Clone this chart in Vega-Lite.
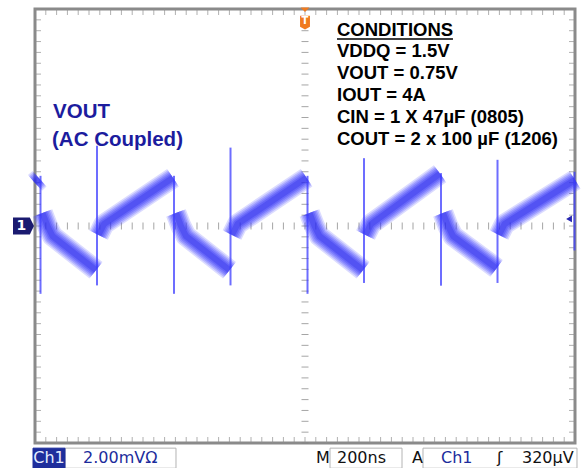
{
  "$schema": "https://vega.github.io/schema/vega-lite/v6.json",
  "width": 540,
  "height": 434,
  "autosize": {"type": "none"},
  "padding": {"left": 35, "top": 9, "right": 10, "bottom": 25},
  "background": "white",
  "config": {"view": {"stroke": "#8a8a8a", "strokeWidth": 3}},
  "datasets": {
    "band": [
      {"seg": "U-1", "t": -1000, "v": 1.59}, {"seg": "U-1", "t": -983.3, "v": 1.74},
      {"seg": "D0", "t": -972.2, "v": 0.48}, {"seg": "D0", "t": -953.7, "v": 0.0}, {"seg": "D0", "t": -935.2, "v": -0.37}, {"seg": "D0", "t": -774.1, "v": -1.63},
      {"seg": "U0", "t": -764.8, "v": -0.33}, {"seg": "U0", "t": -744.4, "v": 0.07}, {"seg": "U0", "t": -488.9, "v": 1.78},
      {"seg": "D1", "t": -477.8, "v": 0.48}, {"seg": "D1", "t": -459.3, "v": 0.0}, {"seg": "D1", "t": -440.7, "v": -0.37}, {"seg": "D1", "t": -279.6, "v": -1.63},
      {"seg": "U1", "t": -270.4, "v": -0.33}, {"seg": "U1", "t": -250.0, "v": 0.07}, {"seg": "U1", "t": 5.6, "v": 1.78},
      {"seg": "D2", "t": 16.7, "v": 0.48}, {"seg": "D2", "t": 35.2, "v": 0.0}, {"seg": "D2", "t": 53.7, "v": -0.37}, {"seg": "D2", "t": 214.8, "v": -1.63},
      {"seg": "U2", "t": 224.1, "v": -0.33}, {"seg": "U2", "t": 244.4, "v": 0.07}, {"seg": "U2", "t": 500.0, "v": 1.93},
      {"seg": "D3", "t": 511.1, "v": 0.48}, {"seg": "D3", "t": 529.6, "v": 0.0}, {"seg": "D3", "t": 548.1, "v": -0.37}, {"seg": "D3", "t": 709.3, "v": -1.56},
      {"seg": "U3", "t": 718.5, "v": -0.33}, {"seg": "U3", "t": 738.9, "v": 0.07}, {"seg": "U3", "t": 1000, "v": 1.70}
    ],
    "spikes": [
      {"t": -979.6, "v1": -2.5, "v2": 1.85},
      {"t": -770.4, "v1": -2.19, "v2": 2.96},
      {"t": -485.2, "v1": -2.5, "v2": 1.85},
      {"t": -275.9, "v1": -2.19, "v2": 2.89},
      {"t": 9.3, "v1": -2.5, "v2": 1.85},
      {"t": 218.5, "v1": -2.1, "v2": 2.5},
      {"t": 503.7, "v1": -2.2, "v2": 1.95},
      {"t": 713.0, "v1": -2.1, "v2": 2.44},
      {"t": 998.1, "v1": -0.9, "v2": 2.0}
    ],
    "tx": [
      {"t": -1000}, {"t": -960}, {"t": -920}, {"t": -880}, {"t": -840}, {"t": -800}, {"t": -760}, {"t": -720}, {"t": -680}, {"t": -640},
      {"t": -600}, {"t": -560}, {"t": -520}, {"t": -480}, {"t": -440}, {"t": -400}, {"t": -360}, {"t": -320}, {"t": -280}, {"t": -240},
      {"t": -200}, {"t": -160}, {"t": -120}, {"t": -80}, {"t": -40}, {"t": 0}, {"t": 40}, {"t": 80}, {"t": 120}, {"t": 160},
      {"t": 200}, {"t": 240}, {"t": 280}, {"t": 320}, {"t": 360}, {"t": 400}, {"t": 440}, {"t": 480}, {"t": 520}, {"t": 560},
      {"t": 600}, {"t": 640}, {"t": 680}, {"t": 720}, {"t": 760}, {"t": 800}, {"t": 840}, {"t": 880}, {"t": 920}, {"t": 960}, {"t": 1000}
    ],
    "ty": [
      {"v": -8}, {"v": -7.6}, {"v": -7.2}, {"v": -6.8}, {"v": -6.4}, {"v": -6}, {"v": -5.6}, {"v": -5.2}, {"v": -4.8}, {"v": -4.4},
      {"v": -4}, {"v": -3.6}, {"v": -3.2}, {"v": -2.8}, {"v": -2.4}, {"v": -2}, {"v": -1.6}, {"v": -1.2}, {"v": -0.8}, {"v": -0.4},
      {"v": 0}, {"v": 0.4}, {"v": 0.8}, {"v": 1.2}, {"v": 1.6}, {"v": 2}, {"v": 2.4}, {"v": 2.8}, {"v": 3.2}, {"v": 3.6},
      {"v": 4}, {"v": 4.4}, {"v": 4.8}, {"v": 5.2}, {"v": 5.6}, {"v": 6}, {"v": 6.4}, {"v": 6.8}, {"v": 7.2}, {"v": 7.6}, {"v": 8}
    ],
    "vout": [
      {"label": "VOUT", "t": -933.3, "v": 4.0},
      {"label": "(AC Coupled)", "t": -937.0, "v": 2.96}
    ],
    "cond": [
      {"label": "CONDITIONS", "t": 118.5, "v": 7.0},
      {"label": "VDDQ = 1.5V", "t": 118.5, "v": 6.22},
      {"label": "VOUT = 0.75V", "t": 118.5, "v": 5.41},
      {"label": "IOUT = 4A", "t": 118.5, "v": 4.59},
      {"label": "CIN = 1 X 47µF (0805)", "t": 118.5, "v": 3.81},
      {"label": "COUT = 2 x 100 µF (1206)", "t": 118.5, "v": 3.0}
    ],
    "underline": [{"t1": 118.5, "t2": 548, "v": 6.89}],
    "boxes": [
      {"name": "scale", "t1": -888.9, "t2": -477.8, "v1": -8.19, "v2": -8.93},
      {"name": "time", "t1": 92.6, "t2": 359.3, "v1": -8.19, "v2": -8.93},
      {"name": "trigger", "t1": 437, "t2": 1007.4, "v1": -8.19, "v2": -8.93}
    ],
    "chbox": [{"t1": -1007.4, "t2": -888.9, "v1": -8.19, "v2": -8.93}],
    "chtext": [{"label": "Ch1", "t": -948, "v": -8.74}],
    "bluetext": [
      {"label": "2.00mVΩ", "t": -822, "v": -8.74},
      {"label": "Ch1", "t": 503.7, "v": -8.74}
    ],
    "blacktext": [
      {"label": "M", "t": 40.7, "v": -8.74},
      {"label": "200ns", "t": 118.5, "v": -8.74},
      {"label": "A", "t": 396.3, "v": -8.74},
      {"label": "ʃ", "t": 711, "v": -8.74},
      {"label": "320µV", "t": 803.7, "v": -8.74}
    ],
    "trigpin": [{"t": 0, "v": 7.65}],
    "triglabel": [{"t": 0, "v": 7.54, "label": "T"}],
    "chmark": [{"t": -1042.6, "v": 0, "label": "1"}],
    "rmark": [{"t": 977.8, "v": 0.26}]
  },
  "layer": [
    {
      "mark": {"type": "rule", "color": "#7f7f7f", "strokeWidth": 1.5},
      "encoding": {"x": {"datum": 0, "type": "quantitative", "axis": null}}
    },
    {
      "mark": {"type": "rule", "color": "#7f7f7f", "strokeWidth": 1.5},
      "encoding": {"y": {"datum": 0, "type": "quantitative", "axis": null}}
    },
    {
      "data": {"name": "tx"},
      "mark": {"type": "tick", "orient": "vertical", "size": 7, "thickness": 1, "color": "#7f7f7f"},
      "encoding": {
        "x": {"field": "t", "type": "quantitative", "axis": null},
        "y": {"datum": 0, "type": "quantitative", "axis": null}
      }
    },
    {
      "data": {"name": "ty"},
      "mark": {"type": "tick", "orient": "horizontal", "size": 7, "thickness": 1, "color": "#7f7f7f"},
      "encoding": {
        "y": {"field": "v", "type": "quantitative", "axis": null},
        "x": {"datum": 0, "type": "quantitative", "axis": null}
      }
    },
    {
      "data": {"name": "tx"},
      "mark": {"type": "tick", "orient": "vertical", "size": 12, "thickness": 1, "color": "#8f8f8f", "clip": true},
      "encoding": {
        "x": {"field": "t", "type": "quantitative", "axis": null},
        "y": {"datum": 8, "type": "quantitative", "axis": null}
      }
    },
    {
      "data": {"name": "tx"},
      "mark": {"type": "tick", "orient": "vertical", "size": 12, "thickness": 1, "color": "#8f8f8f", "clip": true},
      "encoding": {
        "x": {"field": "t", "type": "quantitative", "axis": null},
        "y": {"datum": -8, "type": "quantitative", "axis": null}
      }
    },
    {
      "data": {"name": "ty"},
      "mark": {"type": "tick", "orient": "horizontal", "size": 12, "thickness": 1, "color": "#8f8f8f", "clip": true},
      "encoding": {
        "y": {"field": "v", "type": "quantitative", "axis": null},
        "x": {"datum": -1000, "type": "quantitative", "axis": null}
      }
    },
    {
      "data": {"name": "ty"},
      "mark": {"type": "tick", "orient": "horizontal", "size": 12, "thickness": 1, "color": "#8f8f8f", "clip": true},
      "encoding": {
        "y": {"field": "v", "type": "quantitative", "axis": null},
        "x": {"datum": 1000, "type": "quantitative", "axis": null}
      }
    },
    {
      "data": {"name": "band"},
      "mark": {"type": "line", "stroke": "#3a3aff", "strokeWidth": 21, "opacity": 0.18, "strokeCap": "butt", "strokeJoin": "round"},
      "encoding": {
        "x": {
          "field": "t", "type": "quantitative",
          "scale": {"domain": [-1000, 1000], "nice": false, "zero": false},
          "axis": {"values": [-800, -600, -400, -200, 200, 400, 600, 800], "grid": true, "gridDash": [2, 8.85], "gridDashOffset": 1, "gridColor": "#a0a0a0", "gridWidth": 2, "domain": false, "ticks": false, "labels": false, "title": null}
        },
        "y": {
          "field": "v", "type": "quantitative",
          "scale": {"domain": [-8, 8], "nice": false, "zero": false},
          "axis": {"values": [-6, -4, -2, 2, 4, 6], "grid": true, "gridDash": [2, 8.8], "gridDashOffset": 1, "gridColor": "#a0a0a0", "gridWidth": 2, "domain": false, "ticks": false, "labels": false, "title": null}
        },
        "detail": {"field": "seg", "type": "nominal"}
      }
    },
    {
      "data": {"name": "band"},
      "mark": {"type": "line", "stroke": "#3a3aff", "strokeWidth": 18, "opacity": 0.22, "strokeCap": "butt", "strokeJoin": "round"},
      "encoding": {
        "x": {"field": "t", "type": "quantitative", "axis": null},
        "y": {"field": "v", "type": "quantitative", "axis": null},
        "detail": {"field": "seg", "type": "nominal"}
      }
    },
    {
      "data": {"name": "band"},
      "mark": {"type": "line", "stroke": "#3636ff", "strokeWidth": 15, "opacity": 0.25, "strokeCap": "butt", "strokeJoin": "round"},
      "encoding": {
        "x": {"field": "t", "type": "quantitative", "axis": null},
        "y": {"field": "v", "type": "quantitative", "axis": null},
        "detail": {"field": "seg", "type": "nominal"}
      }
    },
    {
      "data": {"name": "band"},
      "mark": {"type": "line", "stroke": "#3030f8", "strokeWidth": 12, "opacity": 0.25, "strokeCap": "butt", "strokeJoin": "round"},
      "encoding": {
        "x": {"field": "t", "type": "quantitative", "axis": null},
        "y": {"field": "v", "type": "quantitative", "axis": null},
        "detail": {"field": "seg", "type": "nominal"}
      }
    },
    {
      "data": {"name": "band"},
      "mark": {"type": "line", "stroke": "#2a2af0", "strokeWidth": 9, "opacity": 0.28, "strokeCap": "butt", "strokeJoin": "round"},
      "encoding": {
        "x": {"field": "t", "type": "quantitative", "axis": null},
        "y": {"field": "v", "type": "quantitative", "axis": null},
        "detail": {"field": "seg", "type": "nominal"}
      }
    },
    {
      "data": {"name": "band"},
      "mark": {"type": "line", "stroke": "#2424e6", "strokeWidth": 6, "opacity": 0.3, "strokeCap": "butt", "strokeJoin": "round"},
      "encoding": {
        "x": {"field": "t", "type": "quantitative", "axis": null},
        "y": {"field": "v", "type": "quantitative", "axis": null},
        "detail": {"field": "seg", "type": "nominal"}
      }
    },
    {
      "data": {"name": "spikes"},
      "mark": {"type": "rule", "color": "#3c3cff", "strokeWidth": 2, "opacity": 0.75},
      "encoding": {
        "x": {"field": "t", "type": "quantitative", "axis": null},
        "y": {"field": "v1", "type": "quantitative", "axis": null},
        "y2": {"field": "v2"}
      }
    },
    {
      "data": {"name": "vout"},
      "mark": {"type": "text", "align": "left", "baseline": "alphabetic", "font": "Liberation Sans", "fontWeight": "bold", "fontSize": 20.5, "color": "#1c1c9e"},
      "encoding": {
        "x": {"field": "t", "type": "quantitative", "axis": null},
        "y": {"field": "v", "type": "quantitative", "axis": null},
        "text": {"field": "label"}
      }
    },
    {
      "data": {"name": "cond"},
      "mark": {"type": "text", "align": "left", "baseline": "alphabetic", "font": "Liberation Sans", "fontWeight": "bold", "fontSize": 18.5, "color": "#000000"},
      "encoding": {
        "x": {"field": "t", "type": "quantitative", "axis": null},
        "y": {"field": "v", "type": "quantitative", "axis": null},
        "text": {"field": "label"}
      }
    },
    {
      "data": {"name": "underline"},
      "mark": {"type": "rule", "color": "#000000", "strokeWidth": 1.5},
      "encoding": {
        "x": {"field": "t1", "type": "quantitative", "axis": null},
        "x2": {"field": "t2"},
        "y": {"field": "v", "type": "quantitative", "axis": null}
      }
    },
    {
      "data": {"name": "trigpin"},
      "mark": {"type": "point", "shape": "M -0.4 -1 L 0.4 -1 L 0 -0.6 Z M -0.45 -0.25 L 0.45 -0.25 L 0.45 0.75 L 0 1 L -0.45 0.75 Z", "filled": true, "size": 484, "color": "#f07a1e", "opacity": 1},
      "encoding": {
        "x": {"field": "t", "type": "quantitative", "axis": null},
        "y": {"field": "v", "type": "quantitative", "axis": null}
      }
    },
    {
      "data": {"name": "triglabel"},
      "mark": {"type": "text", "align": "center", "baseline": "middle", "font": "DejaVu Sans", "fontWeight": "bold", "fontSize": 10, "color": "#ffffff"},
      "encoding": {
        "x": {"field": "t", "type": "quantitative", "axis": null},
        "y": {"field": "v", "type": "quantitative", "axis": null},
        "text": {"field": "label"}
      }
    },
    {
      "data": {"name": "chmark"},
      "mark": {"type": "point", "shape": "M -1 -0.8 L 0.6 -0.8 L 1 0 L 0.6 0.8 L -1 0.8 Z", "filled": true, "size": 441, "color": "#1a1a70", "opacity": 1},
      "encoding": {
        "x": {"field": "t", "type": "quantitative", "axis": null},
        "y": {"field": "v", "type": "quantitative", "axis": null}
      }
    },
    {
      "data": {"name": "chmark"},
      "mark": {"type": "text", "align": "center", "baseline": "middle", "font": "DejaVu Sans", "fontWeight": "bold", "fontSize": 14, "color": "#ffffff", "dx": -2},
      "encoding": {
        "x": {"field": "t", "type": "quantitative", "axis": null},
        "y": {"field": "v", "type": "quantitative", "axis": null},
        "text": {"field": "label"}
      }
    },
    {
      "data": {"name": "rmark"},
      "mark": {"type": "point", "shape": "triangle-left", "filled": true, "size": 45, "color": "#2626b0", "opacity": 1},
      "encoding": {
        "x": {"field": "t", "type": "quantitative", "axis": null},
        "y": {"field": "v", "type": "quantitative", "axis": null}
      }
    },
    {
      "data": {"name": "boxes"},
      "mark": {"type": "rect", "fill": "#ffffff", "stroke": "#b4b4b4", "strokeWidth": 1},
      "encoding": {
        "x": {"field": "t1", "type": "quantitative", "axis": null},
        "x2": {"field": "t2"},
        "y": {"field": "v1", "type": "quantitative", "axis": null},
        "y2": {"field": "v2"}
      }
    },
    {
      "data": {"name": "chbox"},
      "mark": {"type": "rect", "fill": "#1e2e9c", "stroke": "#1e2e9c", "strokeWidth": 1},
      "encoding": {
        "x": {"field": "t1", "type": "quantitative", "axis": null},
        "x2": {"field": "t2"},
        "y": {"field": "v1", "type": "quantitative", "axis": null},
        "y2": {"field": "v2"}
      }
    },
    {
      "data": {"name": "chtext"},
      "mark": {"type": "text", "align": "center", "baseline": "alphabetic", "font": "DejaVu Sans", "fontSize": 16, "color": "#e4ecff"},
      "encoding": {
        "x": {"field": "t", "type": "quantitative", "axis": null},
        "y": {"field": "v", "type": "quantitative", "axis": null},
        "text": {"field": "label"}
      }
    },
    {
      "data": {"name": "bluetext"},
      "mark": {"type": "text", "align": "left", "baseline": "alphabetic", "font": "DejaVu Sans", "fontSize": 16, "color": "#1c2c9c"},
      "encoding": {
        "x": {"field": "t", "type": "quantitative", "axis": null},
        "y": {"field": "v", "type": "quantitative", "axis": null},
        "text": {"field": "label"}
      }
    },
    {
      "data": {"name": "blacktext"},
      "mark": {"type": "text", "align": "left", "baseline": "alphabetic", "font": "DejaVu Sans", "fontSize": 16, "color": "#111111"},
      "encoding": {
        "x": {"field": "t", "type": "quantitative", "axis": null},
        "y": {"field": "v", "type": "quantitative", "axis": null},
        "text": {"field": "label"}
      }
    }
  ]
}
